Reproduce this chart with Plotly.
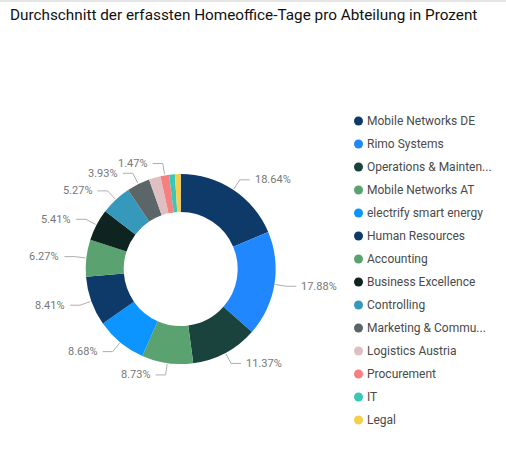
import math
import plotly.graph_objects as go

# ---- data ----
departments = [
    "Mobile Networks DE", "Rimo Systems", "Operations & Mainten...",
    "Mobile Networks AT", "electrify smart energy", "Human Resources",
    "Accounting", "Business Excellence", "Controlling",
    "Marketing & Commu...", "Logistics Austria", "Procurement", "IT", "Legal",
]
percent = [18.64, 17.88, 11.37, 8.73, 8.68, 8.41, 6.27, 5.41, 5.27, 3.93,
           1.99, 1.47, 0.98, 0.97]
shown_labels = [True, True, True, True, True, True, True, True, True, True,
                False, True, False, False]
colors = ["#0E3A6A", "#2187FF", "#1A433D", "#5AA371", "#0C95FF", "#0E3A6A",
          "#5AA371", "#0D2421", "#3699BB", "#5C6668", "#DFBFC1", "#F67F7F",
          "#3CC6B8", "#F5CF4A"]

W, H = 506, 451
CX, CY, R = 180.7, 269.0, 95.0   # donut centre / radius in pixels

fig = go.Figure()

fig.add_trace(go.Pie(
    labels=departments, values=percent, sort=False, direction="clockwise",
    rotation=0, hole=0.6, textinfo="none", hoverinfo="label+percent",
    marker=dict(colors=colors, line=dict(width=0)), showlegend=False,
    domain=dict(x=[(CX - R) / W, (CX + R) / W],
                y=[(H - CY - R) / H, (H - CY + R) / H]),
))

# leader lines + labels computed from the values
total = sum(percent)
lx, ly = [], []
annotations = []
cum = 0.0
for name, v, show in zip(departments, percent, shown_labels):
    mid = (cum + v / 2) / total
    cum += v
    if not show:
        continue
    th = 2 * math.pi * mid
    s, c = math.sin(th), math.cos(th)
    x0, y0 = CX + (R + 1) * s, CY - (R + 1) * c
    x1, y1 = CX + (R + 12) * s, CY - (R + 12) * c
    side = 1 if s >= 0 else -1
    x2 = x1 + side * 10
    lx += [x0, x1, x2, None]
    ly += [y0, y1, y1, None]
    annotations.append(dict(
        x=x2 + side * 3, y=y1, xref="x", yref="y", showarrow=False,
        text=f"{v:.2f}%", xanchor="left" if side > 0 else "right",
        yanchor="middle", font=dict(size=11, color="#777777",
                                    family="Segoe UI, Roboto, sans-serif"),
    ))

fig.add_trace(go.Scatter(x=lx, y=ly, mode="lines", hoverinfo="skip",
                         line=dict(color="#AFAFAF", width=1), showlegend=False))

# legend (Power BI style)
LEG_X, LEG_Y0, LEG_DY = 358.5, 121.0, 23.0
fig.add_trace(go.Scatter(
    x=[LEG_X] * len(departments),
    y=[LEG_Y0 + i * LEG_DY for i in range(len(departments))],
    mode="markers", hoverinfo="skip", showlegend=False,
    marker=dict(size=9, color=colors, symbol="circle"),
))
for i, name in enumerate(departments):
    annotations.append(dict(
        x=LEG_X + 6, y=LEG_Y0 + i * LEG_DY, xref="x", yref="y",
        showarrow=False, text=name, xanchor="left", yanchor="middle",
        font=dict(size=12, color="#4A4A4A",
                  family="Segoe UI, Roboto, sans-serif"),
    ))

annotations.append(dict(
    x=8, y=15, xref="x", yref="y", showarrow=False,
    text="Durchschnitt der erfassten Homeoffice-Tage pro Abteilung in Prozent",
    xanchor="left", yanchor="middle",
    font=dict(size=15.3, color="#111111", family="Roboto, sans-serif"),
))

fig.update_layout(
    width=W, height=H, margin=dict(l=0, r=0, t=0, b=0),
    paper_bgcolor="white", plot_bgcolor="rgba(0,0,0,0)",
    xaxis=dict(range=[0, W], visible=False, fixedrange=True),
    yaxis=dict(range=[H, 0], visible=False, fixedrange=True),
    annotations=annotations,
    shapes=[dict(type="rect", xref="x", yref="y", x0=0, x1=W, y0=0, y1=2,
                 fillcolor="#E6E6E6", line=dict(width=0), layer="below")],
)

fig.write_html("out.html")
